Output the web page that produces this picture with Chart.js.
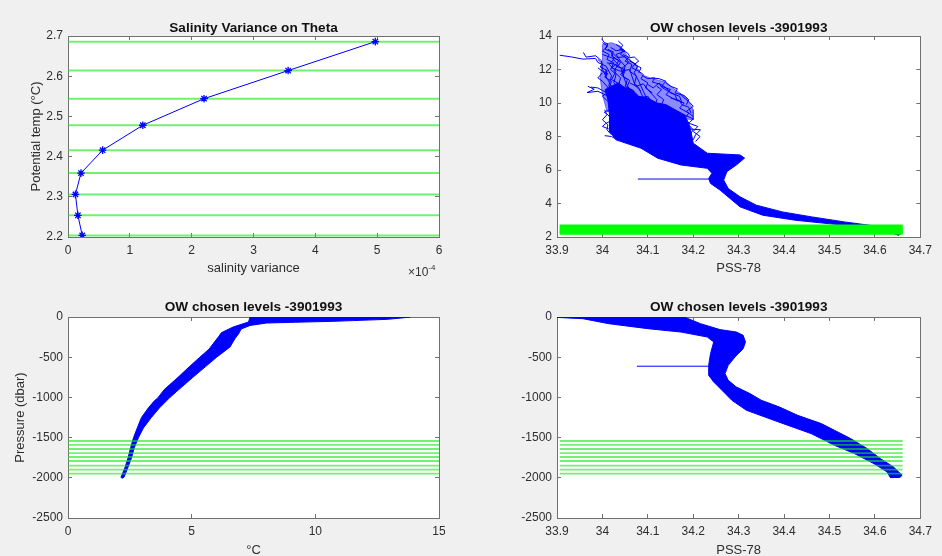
<!DOCTYPE html>
<html>
<head>
<meta charset="utf-8">
<title>OW chosen levels -3901993</title>
<script src="https://cdn.jsdelivr.net/npm/chart.js@4.4.1/dist/chart.umd.min.js"></script>
<style>
  html, body { margin: 0; padding: 0; background: #f0f0f0; overflow: hidden; }
  body { width: 942px; height: 556px; position: relative; font-family: 'Liberation Sans', Arial, sans-serif; }
  .panel { position: absolute; }
  #expLabel { position: absolute; left: 408px; top: 265px; font-size: 12px; line-height: 14px; color: #333; }
  #expLabel sup { font-size: 8px; vertical-align: 6px; line-height: 0; }
</style>
</head>
<body>
<canvas id="varPanel" class="panel" width="471" height="290" style="left:0;top:0"></canvas>
<canvas id="tsPanel" class="panel" width="471" height="290" style="left:471px;top:0"></canvas>
<canvas id="tpPanel" class="panel" width="471" height="280" style="left:0;top:290px"></canvas>
<canvas id="spPanel" class="panel" width="471" height="280" style="left:471px;top:290px"></canvas>
<div id="expLabel">&times;10<sup>-4</sup></div>

<script>
// chosen theta levels and the salinity variance on each
const chosenTheta = [2.686, 2.614, 2.544, 2.478, 2.416, 2.359, 2.306, 2.254, 2.204];
const salinityVariance = [4.97e-4, 3.56e-4, 2.20e-4, 1.21e-4, 0.56e-4, 0.21e-4, 0.12e-4, 0.16e-4, 0.23e-4];

// pressure (dbar) of the same chosen levels
const chosenPressure = [-1542, -1590, -1642, -1692, -1741, -1791, -1848, -1898, -1948];

// salinity span covered by the level lines
const levelSalinitySpan = [33.906, 34.661];

// axis limits: [min, max, step]
const varianceAxis = [0, 6e-4, 1e-4];
const thetaAxis = [2.2, 2.7, 0.1];
const salinityAxis = [33.9, 34.7, 0.1];
const tsThetaAxis = [2, 14, 2];
const tempAxis = [0, 15, 5];
const pressureAxis = [-2500, 0, 500];

// theta/salinity: dense part of the profiles (salinity, theta)
const tsCore = [
  [34.006, 10.8], [34.012, 10.2], [34.016, 9.2], [34.016, 8.3], [34.03, 7.8], [34.085, 7.3],
  [34.122, 6.7], [34.173, 6.3], [34.231, 6.1], [34.241, 5.8], [34.234, 5.5], [34.238, 5.2],
  [34.259, 4.8], [34.281, 4.3], [34.303, 3.8], [34.353, 3.3], [34.425, 3.0], [34.497, 2.8],
  [34.569, 2.6], [34.641, 2.2], [34.652, 2.1], [34.66, 2.25], [34.605, 2.64], [34.533, 2.9],
  [34.461, 3.2], [34.396, 3.5], [34.339, 3.9], [34.303, 4.4], [34.277, 4.9], [34.267, 5.4],
  [34.274, 5.9], [34.295, 6.3], [34.313, 6.71], [34.303, 6.9], [34.231, 7.0], [34.2, 7.6],
  [34.195, 8.3], [34.19, 8.8], [34.18, 9.3], [34.16, 9.6], [34.14, 9.9], [34.12, 10.0],
  [34.1, 10.3], [34.08, 10.4], [34.065, 10.8], [34.05, 10.9], [34.035, 11.2], [34.02, 11.0],
  [34.006, 10.8]
];

// theta/salinity: looser band above the dense part
const tsHaze = [
  [34.0, 13.5], [34.02, 13.6], [34.04, 13.4], [34.05, 13.0], [34.06, 12.6], [34.075, 12.2],
  [34.085, 11.7], [34.11, 11.45], [34.14, 11.25], [34.16, 10.8], [34.185, 10.3], [34.2, 9.6],
  [34.2, 9.0], [34.01, 9.5], [34.0, 10.5], [33.995, 11.5], [34.0, 12.5], [34.0, 13.5]
];

// theta/salinity: single profiles in the warm, scattered part
const tsStrands = [
  [[33.906, 12.85], [33.93, 12.76], [33.957, 12.62], [33.985, 12.66], [33.99, 12.42], [34.008, 12.2], [34.02, 11.62], [34.014, 11.02], [34.03, 10.42], [34.042, 9.8]],
  [[33.998, 13.84], [34.004, 13.62], [34.012, 13.52], [34.006, 13.22], [34.021, 13.02], [34.032, 12.72], [34.05, 12.76], [34.058, 12.42], [34.041, 12.02], [34.05, 11.32], [34.062, 10.62], [34.07, 10.0]],
  [[33.958, 13.02], [33.964, 12.74], [33.985, 12.82], [33.998, 12.52], [34.0, 12.0], [34.011, 11.42], [34.022, 10.9], [34.03, 10.22], [34.05, 9.6]],
  [[33.968, 11.0], [33.982, 10.82], [33.966, 10.62], [33.99, 10.7], [34.004, 10.52], [34.02, 10.3], [34.03, 9.9]],
  [[34.018, 13.32], [34.03, 13.12], [34.046, 13.2], [34.04, 12.9], [34.058, 12.6], [34.078, 12.2], [34.07, 11.82], [34.08, 11.3], [34.09, 10.7], [34.1, 10.12], [34.1, 9.5]],
  [[34.0, 12.9], [34.02, 12.7], [34.035, 12.3], [34.025, 11.9], [34.04, 11.5], [34.035, 11.0], [34.05, 10.5], [34.06, 9.9]],
  [[34.108, 11.5], [34.125, 11.45], [34.14, 11.3], [34.13, 11.0], [34.15, 10.8], [34.14, 10.5], [34.16, 10.2], [34.18, 10.0], [34.17, 9.7], [34.19, 9.4], [34.18, 9.0], [34.2, 8.4], [34.19, 8.0]],
  [[34.12, 11.0], [34.13, 10.8], [34.12, 10.5], [34.135, 10.2], [34.13, 9.9], [34.15, 9.6], [34.14, 9.2]],
  [[34.06, 11.2], [34.075, 11.0], [34.09, 11.15], [34.1, 10.8], [34.11, 10.5], [34.12, 10.2], [34.115, 9.8]],
  [[34.01, 12.4], [34.03, 12.3], [34.02, 12.1], [34.04, 11.9], [34.06, 12.0], [34.065, 11.6], [34.07, 11.2], [34.08, 10.9], [34.09, 10.3], [34.085, 9.7]],
  [[34.17, 10.6], [34.18, 10.3], [34.19, 10.1], [34.2, 9.8], [34.185, 9.5], [34.2, 9.2]],
  [[34.0, 11.8], [33.99, 11.5], [34.0, 11.3], [34.01, 11.0], [34.02, 10.5], [34.015, 10.0]],
  [[34.03, 13.5], [34.04, 13.3], [34.05, 13.1], [34.03, 12.9], [34.04, 12.5], [34.05, 12.2], [34.045, 11.7]],
  [[34.19, 8.45], [34.216, 8.4], [34.205, 8.1], [34.2, 7.8]],
  [[34.005, 8.05], [34.02, 8.0], [34.03, 7.85]],
  [[34.1, 11.1], [34.112, 10.9], [34.125, 11.2], [34.13, 10.95], [34.145, 10.7], [34.16, 10.5], [34.165, 10.1]],
  [[34.05, 11.0], [34.07, 10.7], [34.06, 10.4], [34.08, 10.3], [34.1, 10.4], [34.11, 10.0]],
  [[34.02, 13.0], [34.025, 12.6], [34.015, 12.3], [34.03, 11.9], [34.02, 11.4], [34.04, 11.1], [34.035, 10.6]],
  [[34.15, 10.3], [34.17, 10.15], [34.175, 9.9], [34.19, 9.75], [34.195, 9.4]],
  [[34.0, 13.6], [34.012, 13.4], [34.0, 13.1], [34.015, 12.9], [34.01, 12.6], [34.025, 12.4], [34.018, 12.0], [34.03, 11.7], [34.025, 11.2], [34.04, 10.8], [34.05, 10.3]],
  [[34.035, 13.7], [34.045, 13.45], [34.038, 13.2], [34.055, 13.0], [34.06, 12.8], [34.05, 12.5], [34.065, 12.3], [34.06, 11.9], [34.075, 11.6], [34.07, 11.1], [34.085, 10.7]],
  [[34.012, 13.2], [34.024, 13.05], [34.02, 12.8], [34.036, 12.55], [34.03, 12.2], [34.048, 12.0], [34.04, 11.7], [34.055, 11.4], [34.05, 11.0], [34.065, 10.5]],
  [[33.99, 12.1], [34.0, 11.9], [34.012, 11.75], [34.005, 11.55], [34.02, 11.3], [34.015, 10.9], [34.028, 10.6], [34.025, 10.2]],
  [[34.06, 12.5], [34.072, 12.35], [34.065, 12.1], [34.08, 11.9], [34.09, 11.7], [34.085, 11.45], [34.1, 11.2], [34.095, 10.9], [34.11, 10.6]],
  [[34.09, 11.6], [34.1, 11.45], [34.115, 11.5], [34.11, 11.25], [34.13, 11.1], [34.14, 10.9], [34.15, 10.6], [34.17, 10.4], [34.175, 10.0]],
  [[34.14, 11.2], [34.15, 11.0], [34.165, 10.85], [34.16, 10.6], [34.18, 10.45], [34.19, 10.2], [34.185, 9.9]],
  [[34.005, 9.6], [34.01, 9.3], [34.0, 9.0], [34.012, 8.7], [34.01, 8.4], [34.02, 8.1]],
  [[33.99, 12.6], [34.0, 12.35], [33.995, 12.15], [34.01, 11.95], [34.008, 11.6]],
  [[34.045, 12.9], [34.06, 12.7], [34.07, 12.75], [34.08, 12.5], [34.07, 12.3], [34.085, 12.1], [34.08, 11.8]],
  [[34.18, 9.3], [34.2, 9.05], [34.19, 8.8], [34.21, 8.6], [34.2, 8.3], [34.215, 8.0], [34.205, 7.7]],
  [[34.025, 12.7], [34.04, 12.45], [34.035, 12.2], [34.05, 11.95], [34.045, 11.6], [34.06, 11.35], [34.055, 11.0], [34.07, 10.6], [34.075, 10.2]],
  [[33.975, 10.95], [33.99, 10.9], [34.0, 10.75], [34.01, 10.6], [34.0, 10.4], [34.012, 10.1]],
  [[34.016, 9.6], [34.004, 9.45], [34.012, 9.3], [34.018, 9.1]],
  [[34.016, 8.9], [34.006, 8.75], [34.0, 8.6], [34.014, 8.45]]
];

// one profile with a spike at the 5.5 degree level
const tsOutlier = [[34.078, 5.46], [34.24, 5.46]];

// temperature/pressure: envelope of all profiles (temperature, pressure)
const tempBand = [
  [7.36, 0], [13.84, 0], [13.5, -12], [12.9, -29], [11.5, -45], [10.7, -54], [9.2, -65],
  [8.03, -75], [7.36, -105], [7.0, -150], [6.9, -207], [6.75, -269], [6.55, -373],
  [6.01, -500], [5.55, -620], [5.05, -750], [4.6, -870], [4.12, -1000], [3.7, -1130],
  [3.37, -1250], [3.05, -1380], [2.85, -1500], [2.68, -1625], [2.57, -1750], [2.42, -1875],
  [2.27, -1990], [2.2, -2005], [2.14, -1995], [2.3, -1875], [2.43, -1750], [2.53, -1625],
  [2.65, -1500], [2.8, -1380], [2.97, -1250], [3.25, -1130], [3.5, -1040], [3.62, -1010],
  [3.9, -900], [4.45, -750], [4.9, -620], [5.33, -500], [5.7, -400], [5.95, -300],
  [6.1, -240], [6.2, -195], [6.3, -180], [6.68, -124], [7.3, -62], [7.36, 0]
];

// salinity/pressure: envelope of all profiles (salinity, pressure)
const salinityBand = [
  [33.9, 0], [34.18, 0], [34.216, -83], [34.259, -157], [34.295, -187], [34.31, -228],
  [34.315, -311], [34.31, -394], [34.292, -497], [34.277, -601], [34.27, -704], [34.277, -787],
  [34.295, -871], [34.325, -953], [34.35, -1036], [34.39, -1120], [34.43, -1223], [34.482, -1326],
  [34.511, -1409], [34.547, -1513], [34.583, -1637], [34.612, -1761], [34.641, -1866], [34.66, -1969],
  [34.655, -1995], [34.634, -1998], [34.627, -1928], [34.598, -1824], [34.555, -1699], [34.511, -1596],
  [34.46, -1451], [34.388, -1306], [34.317, -1160], [34.285, -1036], [34.267, -933], [34.245, -808],
  [34.234, -725], [34.234, -601], [34.238, -456], [34.245, -311], [34.231, -249], [34.173, -187],
  [34.10, -145], [34.014, -83], [33.957, -21], [33.9, -5], [33.9, 0]
];
const spOutlier = [[34.076, -612], [34.24, -612]];

const FONT = "'Liberation Sans', Arial, Helvetica, sans-serif";
const TEXT = '#2e2e2e';
const AXIS = '#707070';
const BLUE = '#0000ff';
const LEVEL_GREEN = 'rgba(20, 230, 20, 0.6)';

// white axes box on the grey figure
const plotBackground = {
  id: 'plotBackground',
  beforeDraw(chart) {
    const { ctx, chartArea: a } = chart;
    ctx.save();
    ctx.fillStyle = '#ffffff';
    ctx.fillRect(a.left, a.top, a.width, a.height);
    ctx.restore();
  }
};

const toPoints = pairs => pairs.map(([x, y]) => ({ x, y }));

function strand(pairs, color, width) {
  return { data: toPoints(pairs), borderColor: color, borderWidth: width, pointRadius: 0, fill: false, tension: 0 };
}

function area(pairs, color = BLUE) {
  return { data: toPoints(pairs), borderColor: color, backgroundColor: color, borderWidth: 1, pointRadius: 0, fill: 'shape', tension: 0 };
}

// box axes with inward ticks on all four sides
function boxScales(c) {
  const tickFont = { family: FONT, size: 12 };
  const grid = { drawOnChartArea: false, drawTicks: true, tickLength: -4, color: AXIS, lineWidth: 1 };
  const border = { color: AXIS, width: 1 };
  const [xMin, xMax, xStep] = c.xAxis;
  const [yMin, yMax, yStep] = c.yAxis;
  return {
    x: {
      type: 'linear', position: 'bottom', min: xMin, max: xMax, grid, border,
      ticks: { stepSize: xStep, font: tickFont, color: TEXT, padding: 10, maxRotation: 0, autoSkip: false, callback: c.xFmt },
      title: { display: !!c.xTitle, text: c.xTitle || '', color: TEXT, font: { family: FONT, size: 13 }, padding: { top: 0, bottom: c.xTitlePad } },
      afterFit: s => { s.height = c.bottomH; }
    },
    x2: {
      type: 'linear', axis: 'x', position: 'top', min: xMin, max: xMax, grid, border,
      ticks: { stepSize: xStep, display: false },
      title: { display: true, text: c.title, color: '#111', font: { family: FONT, size: 13.6, weight: 'bold' }, padding: { top: c.titlePad, bottom: 0 } },
      afterFit: s => { s.height = c.topH; }
    },
    y: {
      type: 'linear', position: 'left', min: yMin, max: yMax, grid, border,
      ticks: { stepSize: yStep, font: tickFont, color: TEXT, padding: 9, autoSkip: false, callback: c.yFmt },
      title: { display: !!c.yTitle, text: c.yTitle || '', color: TEXT, font: { family: FONT, size: 13 }, padding: { top: c.yTitlePad || 0, bottom: 0 } },
      afterFit: s => { s.width = c.leftW; }
    },
    y2: {
      type: 'linear', axis: 'y', position: 'right', min: yMin, max: yMax, grid, border,
      ticks: { stepSize: yStep, display: false },
      afterFit: s => { s.width = 0; }
    }
  };
}

function makePanel(id, c, datasets) {
  return new Chart(document.getElementById(id), {
    type: 'line',
    data: { datasets },
    options: {
      responsive: false,
      animation: false,
      devicePixelRatio: 1,
      events: [],
      layout: { padding: { left: 0, top: 0, right: c.padRight, bottom: 0 } },
      plugins: { legend: { display: false }, tooltip: { enabled: false } },
      scales: boxScales(c)
    },
    plugins: [plotBackground]
  });
}

const oneDecimal = v => String(Math.round(v * 10) / 10);
const plain = v => String(v);

// top left: salinity variance against theta
const varianceLine = {
  data: salinityVariance.map((v, i) => ({ x: v, y: chosenTheta[i] })),
  borderColor: BLUE, borderWidth: 1, tension: 0, fill: false,
  pointStyle: 'star', pointRadius: 3.8, pointBorderColor: BLUE, pointBorderWidth: 1.3, pointBackgroundColor: BLUE
};
makePanel('varPanel', {
  xAxis: varianceAxis, yAxis: thetaAxis, title: 'Salinity Variance on Theta',
  xTitle: 'salinity variance', yTitle: 'Potential temp (°C)',
  xFmt: v => String(Math.round(v * 1e4)), yFmt: v => v.toFixed(1),
  leftW: 68, topH: 36, bottomH: 53, padRight: 32, titlePad: 20, xTitlePad: 14, yTitlePad: 29
}, [varianceLine].concat(chosenTheta.map(t => strand([[varianceAxis[0], t], [varianceAxis[1], t]], LEVEL_GREEN, 2))));

// top right: theta against salinity
makePanel('tsPanel', {
  xAxis: salinityAxis, yAxis: tsThetaAxis, title: 'OW chosen levels -3901993',
  xTitle: 'PSS-78', xFmt: oneDecimal, yFmt: plain,
  leftW: 86, topH: 36, bottomH: 53, padRight: 15, titlePad: 20, xTitlePad: 14
}, chosenTheta.map(t => strand([[levelSalinitySpan[0], t], [levelSalinitySpan[1], t]], '#00ff00', 2.2))
  .concat(tsStrands.map(s => strand(s, BLUE, 1)))
  .concat([area(tsCore), area(tsHaze, 'rgba(0, 0, 255, 0.45)'), strand(tsOutlier, BLUE, 1)]));

// bottom left: temperature against pressure
makePanel('tpPanel', {
  xAxis: tempAxis, yAxis: pressureAxis, title: 'OW chosen levels -3901993',
  xTitle: '°C', yTitle: 'Pressure (dbar)', xFmt: plain, yFmt: plain,
  leftW: 68, topH: 27, bottomH: 52, padRight: 32, titlePad: 9, xTitlePad: 12, yTitlePad: 13
}, chosenPressure.map(p => strand([[tempAxis[0], p], [tempAxis[1], p]], LEVEL_GREEN, 1.8))
  .concat([area(tempBand)]));

// bottom right: salinity against pressure
makePanel('spPanel', {
  xAxis: salinityAxis, yAxis: pressureAxis, title: 'OW chosen levels -3901993',
  xTitle: 'PSS-78', xFmt: oneDecimal, yFmt: plain,
  leftW: 86, topH: 27, bottomH: 52, padRight: 15, titlePad: 9, xTitlePad: 12
}, chosenPressure.map(p => strand([[levelSalinitySpan[0], p], [levelSalinitySpan[1], p]], LEVEL_GREEN, 1.8))
  .concat([area(salinityBand), strand(spOutlier, BLUE, 1)]));
</script>
</body>
</html>
